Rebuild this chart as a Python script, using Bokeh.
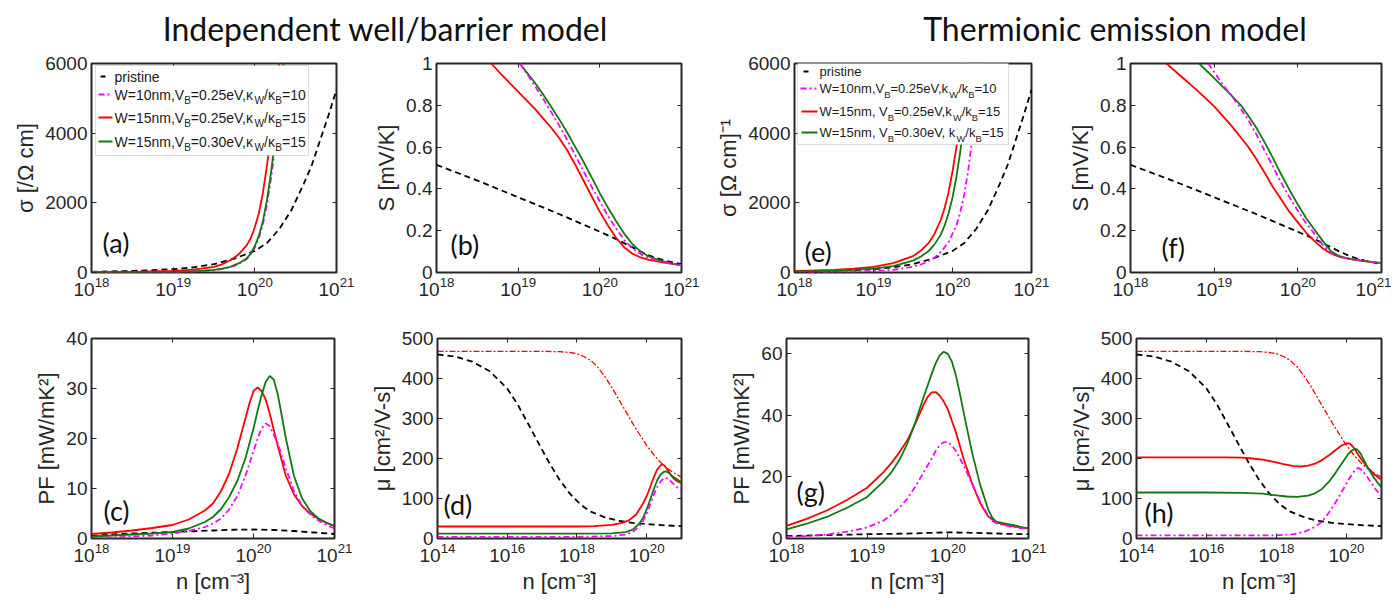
import numpy as np
from bokeh.plotting import figure
from bokeh.models import (Range1d, FixedTicker, LogAxis, LinearAxis, Label,
                          BoxAnnotation, Arrow, Div, CustomJSTickFormatter)
from bokeh.layouts import column, row
from bokeh.embed import file_html
from bokeh.resources import INLINE

# ------------------------------------------------------------------ data
# exponents of n [cm^-3] and values
# conductivity: (a) independent well/barrier model, (e) thermionic emission model
sig_pr_logn = [18, 18.5, 19, 19.25, 19.5, 19.75, 20.0, 20.15, 20.3, 20.45, 20.6, 20.7, 20.8, 20.9, 21]
sig_pr = [20, 45, 95, 150, 240, 400, 620, 850, 1250, 1800, 2550, 3100, 3800, 4500, 5250]

a_red_logn = [18, 18.5, 19, 19.25, 19.5, 19.6, 19.7, 19.8, 19.9, 19.95, 20.0, 20.05, 20.1, 20.15, 20.2, 20.25, 20.3, 20.35]
a_red = [10, 20, 45, 80, 160, 235, 350, 515, 780, 985, 1300, 1700, 2300, 3100, 4000, 5000, 6000, 7200]
a_grn_logn = [18, 18.5, 19, 19.25, 19.5, 19.6, 19.7, 19.8, 19.9, 19.95, 20.0, 20.05, 20.1, 20.15, 20.2, 20.25, 20.3, 20.35, 20.4]
a_grn = [5, 8, 18, 35, 75, 110, 165, 260, 400, 545, 760, 1060, 1480, 2100, 2900, 3850, 4900, 6000, 7100]
a_pnk_logn = [18, 18.5, 19, 19.25, 19.5, 19.6, 19.7, 19.8, 19.9, 19.95, 20.0, 20.05, 20.1, 20.15, 20.2, 20.25, 20.3, 20.35, 20.4]
a_pnk = [2, 5, 12, 28, 65, 100, 152, 240, 385, 520, 720, 1000, 1400, 1980, 2730, 3620, 4600, 5650, 6800]

e_red_logn = [18, 18.25, 18.5, 18.75, 19, 19.25, 19.5, 19.6, 19.7, 19.77, 19.85, 19.9, 19.95, 20.0, 20.05, 20.1, 20.15, 20.2, 20.25]
e_red = [45, 58, 75, 110, 160, 270, 470, 630, 850, 1100, 1500, 1850, 2300, 2900, 3600, 4400, 5200, 6100, 7200]
e_grn_logn = [18, 18.25, 18.5, 18.75, 19, 19.25, 19.5, 19.6, 19.7, 19.77, 19.85, 19.9, 19.95, 20.0, 20.05, 20.1, 20.15, 20.2, 20.25, 20.3]
e_grn = [30, 38, 50, 75, 110, 185, 340, 460, 620, 800, 1080, 1350, 1700, 2150, 2750, 3500, 4300, 5200, 6100, 7300]
e_pnk_logn = [18, 18.25, 18.5, 18.75, 19, 19.25, 19.5, 19.6, 19.7, 19.77, 19.85, 19.95, 20.05, 20.1, 20.15, 20.2, 20.25, 20.3, 20.35]
e_pnk = [5, 9, 15, 25, 40, 78, 165, 230, 330, 420, 580, 870, 1350, 1750, 2250, 2950, 3850, 5000, 6300]

# Seebeck coefficient: (b) and (f)
s_pr_logn = [18, 18.5, 19, 19.5, 20, 20.2, 20.4, 20.5, 20.6, 20.7, 20.8, 20.9, 21]
s_pr = [0.515, 0.44, 0.36, 0.28, 0.195, 0.16, 0.12, 0.1, 0.082, 0.068, 0.057, 0.048, 0.04]

b_red_logn = [18.67, 18.8, 18.9, 19.0, 19.1, 19.2, 19.3, 19.4, 19.5, 19.6, 19.7, 19.8, 19.9, 20.0, 20.1, 20.2, 20.3, 20.4, 20.5, 20.6, 20.75, 20.9, 21]
b_red = [1.0, 0.945, 0.905, 0.865, 0.825, 0.785, 0.74, 0.695, 0.645, 0.585, 0.515, 0.44, 0.365, 0.29, 0.225, 0.165, 0.12, 0.09, 0.072, 0.06, 0.05, 0.04, 0.035]
b_pnk_logn = [19.02, 19.1, 19.2, 19.3, 19.4, 19.5, 19.6, 19.7, 19.8, 19.9, 20.0, 20.1, 20.2, 20.3, 20.4, 20.5, 20.6, 20.75, 20.9, 21]
b_pnk = [1.0, 0.955, 0.895, 0.835, 0.77, 0.705, 0.635, 0.56, 0.485, 0.41, 0.34, 0.27, 0.21, 0.155, 0.115, 0.088, 0.07, 0.053, 0.042, 0.035]
b_grn_logn = [19.02, 19.1, 19.2, 19.3, 19.4, 19.5, 19.6, 19.7, 19.8, 19.9, 20.0, 20.1, 20.2, 20.3, 20.4, 20.5, 20.6, 20.75, 20.9, 21]
b_grn = [1.0, 0.96, 0.91, 0.855, 0.795, 0.735, 0.67, 0.6, 0.53, 0.455, 0.38, 0.31, 0.245, 0.185, 0.135, 0.1, 0.077, 0.056, 0.043, 0.035]

f_red_logn = [18.43, 18.6, 18.8, 19.0, 19.2, 19.4, 19.5, 19.6, 19.7, 19.8, 19.9, 20.0, 20.1, 20.2, 20.3, 20.4, 20.5, 20.6, 20.75, 20.9, 21]
f_red = [1.0, 0.94, 0.87, 0.795, 0.705, 0.605, 0.545, 0.48, 0.41, 0.35, 0.29, 0.24, 0.19, 0.15, 0.115, 0.09, 0.075, 0.066, 0.057, 0.05, 0.045]
f_pnk_logn = [18.93, 19.1, 19.2, 19.29, 19.4, 19.5, 19.6, 19.7, 19.8, 19.9, 20.0, 20.1, 20.2, 20.3, 20.4, 20.5, 20.6, 20.75, 20.9, 21]
f_pnk = [1.0, 0.9, 0.85, 0.8, 0.735, 0.665, 0.585, 0.51, 0.43, 0.36, 0.295, 0.235, 0.185, 0.13, 0.092, 0.076, 0.067, 0.057, 0.05, 0.045]
f_grn_logn = [18.82, 19.0, 19.2, 19.32, 19.4, 19.5, 19.6, 19.7, 19.8, 19.9, 20.0, 20.1, 20.2, 20.3, 20.4, 20.5, 20.6, 20.75, 20.9, 21]
f_grn = [1.0, 0.93, 0.85, 0.8, 0.755, 0.695, 0.625, 0.55, 0.47, 0.395, 0.325, 0.26, 0.205, 0.15, 0.1, 0.078, 0.067, 0.057, 0.05, 0.045]

# power factor: (c) and (g)
c_pr_logn = [18, 18.25, 18.5, 18.75, 19, 19.25, 19.5, 19.75, 20, 20.25, 20.5, 20.75, 21]
c_pr = [0.5, 0.8, 1.0, 1.15, 1.3, 1.45, 1.6, 1.75, 1.8, 1.7, 1.5, 1.2, 0.9]
c_red_logn = [18, 18.25, 18.5, 18.75, 19, 19.2, 19.4, 19.5, 19.6, 19.7, 19.8, 19.9, 19.95, 20.0, 20.05, 20.1, 20.15, 20.2, 20.3, 20.4, 20.5, 20.6, 20.7, 20.8, 20.9, 21]
c_red = [0.9, 1.2, 1.6, 2.1, 2.7, 3.8, 5.6, 7.0, 9.5, 13.0, 18.0, 24.0, 27.0, 29.5, 30.2, 29.5, 27.8, 25.0, 18.5, 12.5, 8.8, 6.5, 5.0, 4.0, 3.2, 2.5]
c_grn_logn = [18, 18.25, 18.5, 18.75, 19, 19.2, 19.4, 19.5, 19.6, 19.7, 19.8, 19.9, 20.0, 20.05, 20.1, 20.15, 20.2, 20.25, 20.3, 20.35, 20.4, 20.5, 20.6, 20.7, 20.8, 20.9, 21]
c_grn = [0.4, 0.6, 0.8, 1.0, 1.3, 2.0, 3.3, 4.3, 5.9, 8.3, 11.5, 16.0, 22.0, 25.5, 28.7, 31.3, 32.5, 31.8, 28.8, 24.5, 20.0, 12.5, 8.0, 5.5, 4.0, 3.1, 2.5]
c_pnk_logn = [18, 18.25, 18.5, 18.75, 19, 19.2, 19.4, 19.5, 19.6, 19.7, 19.8, 19.9, 20.0, 20.05, 20.1, 20.15, 20.2, 20.3, 20.4, 20.5, 20.6, 20.7, 20.8, 20.9, 21]
c_pnk = [0.1, 0.2, 0.4, 0.6, 1.0, 1.5, 2.3, 3.0, 4.0, 5.8, 8.5, 12.5, 17.5, 20.0, 22.0, 23.0, 22.5, 19.0, 14.0, 9.5, 6.5, 4.8, 3.6, 2.7, 2.0]

g_pr_logn = [18, 18.5, 19, 19.5, 19.75, 20, 20.25, 20.5, 20.75, 21]
g_pr = [0.8, 1.1, 1.4, 1.6, 1.8, 2.0, 1.9, 1.7, 1.5, 1.4]
g_red_logn = [18, 18.25, 18.5, 18.75, 19, 19.2, 19.3, 19.4, 19.5, 19.6, 19.7, 19.75, 19.8, 19.85, 19.9, 19.95, 20.0, 20.1, 20.2, 20.3, 20.4, 20.5, 20.6, 20.7, 20.8, 20.9, 21]
g_red = [4.1, 6.4, 9.1, 12.5, 16.5, 21.5, 24.5, 28.0, 32.0, 37.5, 43.5, 46.0, 47.5, 47.6, 46.4, 44.5, 42.0, 34.5, 25.5, 18.0, 11.5, 7.2, 5.2, 4.5, 4.0, 3.6, 3.3]
g_grn_logn = [18, 18.25, 18.5, 18.75, 19, 19.2, 19.3, 19.4, 19.5, 19.6, 19.7, 19.8, 19.85, 19.9, 19.95, 20.0, 20.05, 20.1, 20.15, 20.2, 20.3, 20.4, 20.5, 20.55, 20.6, 20.7, 20.8, 20.9, 21]
g_grn = [3.0, 4.8, 7.0, 10.0, 13.5, 18.5, 21.5, 25.5, 31.0, 38.0, 46.0, 53.5, 57.0, 59.6, 60.7, 60.0, 57.5, 53.0, 47.0, 40.5, 28.0, 17.5, 9.5, 6.8, 5.5, 4.9, 4.4, 3.8, 3.2]
g_pnk_logn = [18, 18.25, 18.5, 18.75, 19, 19.2, 19.3, 19.4, 19.5, 19.6, 19.7, 19.8, 19.85, 19.9, 19.95, 20.0, 20.05, 20.1, 20.15, 20.2, 20.3, 20.4, 20.5, 20.55, 20.6, 20.7, 20.8, 20.9, 21]
g_pnk = [0.5, 0.8, 1.3, 2.2, 3.6, 5.8, 7.6, 10.0, 13.0, 17.0, 21.5, 26.0, 28.5, 30.3, 31.3, 31.3, 30.2, 28.5, 26.0, 23.5, 17.8, 12.0, 7.5, 5.8, 5.0, 4.3, 3.8, 3.4, 3.0]

# mobility: (d) and (h), n from 1e14
mu_pr_logn = [14, 14.5, 15.0, 15.5, 16.0, 16.3, 16.6, 16.9, 17.2, 17.5, 17.8, 18.1, 18.4, 18.8, 19.2, 19.6, 20.0, 20.5, 21]
mu_pr = [460, 455, 442, 418, 375, 335, 287, 238, 190, 147, 112, 85, 67, 53, 44, 39, 36, 33, 31]
mu_w_logn = [14, 16, 17, 17.5, 17.8, 18.0, 18.2, 18.4, 18.6, 18.8, 19.0, 19.2, 19.4, 19.6, 19.8, 20.0, 20.2, 20.4, 20.6, 20.8, 21]
mu_w = [468, 468, 468, 467, 465, 462, 455, 445, 428, 405, 378, 348, 318, 288, 260, 233, 210, 190, 175, 163, 153]

d_red_logn = [14, 17, 18, 18.5, 19.0, 19.3, 19.5, 19.7, 19.9, 20.0, 20.1, 20.2, 20.3, 20.4, 20.45, 20.5, 20.6, 20.7, 20.8, 20.9, 21]
d_red = [30, 30, 30, 31, 34, 39, 46, 60, 88, 106, 128, 152, 172, 183, 185, 183, 172, 158, 148, 142, 138]
d_grn_logn = [14, 18, 19, 19.4, 19.6, 19.8, 19.9, 20.0, 20.1, 20.2, 20.3, 20.4, 20.5, 20.55, 20.65, 20.75, 20.9, 21]
d_grn = [12, 12, 13, 16, 22, 38, 52, 72, 97, 122, 145, 160, 167, 168, 163, 155, 146, 140]
d_pnk_logn = [14, 18, 19, 19.4, 19.6, 19.8, 19.9, 20.0, 20.1, 20.2, 20.3, 20.4, 20.5, 20.55, 20.65, 20.75, 20.9, 21]
d_pnk = [4, 4, 6, 10, 16, 32, 45, 62, 85, 108, 128, 143, 151, 152, 147, 138, 126, 118]

h_red_logn = [14, 16, 16.5, 17.0, 17.3, 17.6, 17.9, 18.2, 18.5, 18.7, 18.9, 19.1, 19.3, 19.5, 19.7, 19.85, 20.0, 20.1, 20.2, 20.3, 20.45, 20.6, 20.8, 21]
h_red = [203, 203, 203, 202, 200, 197, 192, 186, 181, 180, 182, 187, 196, 208, 222, 232, 238, 237, 228, 214, 195, 178, 160, 147]
h_grn_logn = [14, 16, 17, 17.6, 18.0, 18.3, 18.6, 18.9, 19.1, 19.3, 19.5, 19.7, 19.9, 20.05, 20.15, 20.25, 20.3, 20.4, 20.5, 20.6, 20.8, 21]
h_grn = [115, 115, 114, 112, 108, 105, 104, 107, 113, 124, 142, 166, 192, 211, 220, 224, 223, 213, 196, 178, 150, 127]
h_pnk_logn = [14, 17, 18, 18.5, 18.8, 19.1, 19.3, 19.5, 19.7, 19.9, 20.05, 20.2, 20.3, 20.35, 20.45, 20.6, 20.8, 21]
h_pnk = [8, 8, 8, 11, 17, 29, 42, 65, 92, 122, 146, 166, 175, 176, 170, 153, 127, 104]

legend_a = ["pristine",
            [("W=10nm,V", 0), ("B", 1), ("=0.25eV,\u03ba", 0), ("W", 1), ("/\u03ba", 0), ("B", 1), ("=10", 0)],
            [("W=15nm,V", 0), ("B", 1), ("=0.25eV,\u03ba", 0), ("W", 1), ("/\u03ba", 0), ("B", 1), ("=15", 0)],
            [("W=15nm,V", 0), ("B", 1), ("=0.30eV,\u03ba", 0), ("W", 1), ("/\u03ba", 0), ("B", 1), ("=15", 0)]]
legend_e = ["pristine",
            [("W=10nm,V", 0), ("B", 1), ("=0.25eV,k", 0), ("W", 1), ("/k", 0), ("B", 1), ("=10", 0)],
            [("W=15nm, V", 0), ("B", 1), ("=0.25eV,k", 0), ("W", 1), ("/k", 0), ("B", 1), ("=15", 0)],
            [("W=15nm, V", 0), ("B", 1), ("=0.30eV, k", 0), ("W", 1), ("/k", 0), ("B", 1), ("=15", 0)]]

# ------------------------------------------------------------------ style
FONT = "Liberation Sans"
TFONT = "Lato"
AXC = "#262626"
RED, GRN, PNK, BLK = "#ff0000", "#0f7a0f", "#ff00ff", "#000000"
LW = 1.8
DASH = "6 4"
DASHDOT = "6 3 2 3"

ARIAL = {'W': 944, '=': 584, 'n': 556, 'm': 833, ',': 278, 'V': 667, 'B': 667, '.': 278,
         'e': 556, '/': 278, 'k': 500, ' ': 278, '\u03ba': 520, 'p': 556, 'r': 333,
         'i': 222, 's': 500, 't': 278}


def tw(s, size):
    return sum(ARIAL.get(c, 556) for c in s) * size / 1000.0


def lx(v):
    return np.power(10.0, np.asarray(v, dtype=float))


def make_fig(w, h, bl, br, bt, bb, xr, yr, xticks, yticks, ylabel, xlabel=None, yfmt=None):
    p = figure(width=w, height=h, x_axis_type="log",
               x_range=Range1d(xr[0], xr[1]), y_range=Range1d(yr[0], yr[1]),
               output_backend="svg", toolbar_location=None,
               min_border_left=bl, min_border_right=br, min_border_top=bt, min_border_bottom=bb)
    p.grid.visible = False
    p.outline_line_color = AXC
    p.outline_line_width = 2
    p.xaxis.ticker = FixedTicker(ticks=xticks)
    p.yaxis.ticker = FixedTicker(ticks=yticks)
    if yfmt is not None:
        p.yaxis.formatter = yfmt
    for ax in [p.xaxis[0], p.yaxis[0]]:
        ax.axis_line_color = None
        ax.major_tick_in = 5
        ax.major_tick_out = 0
        ax.major_tick_line_color = AXC
        ax.major_tick_line_width = 1
        ax.minor_tick_line_color = None
        ax.major_label_text_font = FONT
        ax.major_label_text_font_size = "19px"
        ax.major_label_text_color = AXC
        ax.major_label_standoff = 4
        ax.axis_label_text_font = FONT
        ax.axis_label_text_font_size = "22px"
        ax.axis_label_text_font_style = "normal"
        ax.axis_label_text_color = AXC
        ax.axis_label_standoff = 4
    p.yaxis[0].axis_label = ylabel
    if xlabel:
        p.xaxis[0].axis_label = xlabel
    top = LogAxis(ticker=FixedTicker(ticks=xticks), formatter=CustomJSTickFormatter(code="return ''"),
                  axis_line_color=None, major_tick_in=4, major_tick_out=0, major_tick_line_color=AXC,
                  minor_tick_line_color=None, major_label_text_font_size="0px", major_label_standoff=0)
    right = LinearAxis(ticker=FixedTicker(ticks=yticks), formatter=CustomJSTickFormatter(code="return ''"),
                       axis_line_color=None, major_tick_in=4, major_tick_out=0, major_tick_line_color=AXC,
                       minor_tick_line_color=None, major_label_text_font_size="0px", major_label_standoff=0)
    p.add_layout(top, "above")
    p.add_layout(right, "right")
    p._fh = h - bt - bb
    return p


def tag(p, text, dx, dy_from_bottom):
    p.add_layout(Label(x=dx, y=dy_from_bottom, x_units="screen", y_units="screen", text=text,
                       text_font=TFONT, text_font_size="27px", text_color="#111111",
                       text_baseline="middle"))


def legend(p, entries, styles, box, rows, text_x, size):
    fh = p._fh
    l, r, t, b = box
    p.add_layout(BoxAnnotation(left=l, right=r, top=fh - t, bottom=fh - b,
                               left_units="screen", right_units="screen",
                               top_units="screen", bottom_units="screen",
                               fill_color="white", fill_alpha=1.0,
                               line_color="#8c8c8c", line_width=1))
    for ent, (col, dash, x0, x1), ry in zip(entries, styles, rows):
        y = fh - ry
        p.add_layout(Arrow(end=None, x_start=x0, y_start=y, x_end=x1, y_end=y,
                           start_units="screen", end_units="screen",
                           line_color=col, line_width=2.2, line_dash=dash))
        parts = [(ent, 0)] if isinstance(ent, str) else ent
        x = text_x
        for txt, sub in parts:
            fs = size * 0.72 if sub else size
            p.add_layout(Label(x=x, y=y - (6 if sub else 0), x_units="screen", y_units="screen",
                               text=txt, text_font=FONT, text_font_size="%.1fpx" % fs,
                               text_color="#1a1a1a", text_baseline="middle"))
            x += tw(txt, fs)


def curves(p, sets):
    for xs, ys, col, dash, lw in sets:
        p.line(lx(xs), ys, line_color=col, line_width=lw, line_dash=dash)


def sfmt():
    return CustomJSTickFormatter(code="return String(Math.round(tick*10)/10)")


DEC3 = [1e18, 1e19, 1e20, 1e21]
DEC2 = [1e14, 1e16, 1e18, 1e20]

# ------------------------------------------------------------------ top row
fa = make_fig(365, 273, 91, 29, 8, 51, (1e18, 1e21), (0, 6000), DEC3, [0, 2000, 4000, 6000],
              "\u03c3 [/\u03a9 cm]")
curves(fa, [(sig_pr_logn, sig_pr, BLK, DASH, LW), (a_pnk_logn, a_pnk, PNK, DASHDOT, LW),
            (a_red_logn, a_red, RED, "solid", LW), (a_grn_logn, a_grn, GRN, "solid", LW)])
legend(fa, legend_a, [(BLK, DASH, 9, 14), (PNK, DASHDOT, 7, 21), (RED, "solid", 7, 21), (GRN, "solid", 7, 21)],
       (4, 217, 7, 97), [18, 36, 59, 83], 23, 14)
tag(fa, "(a)", 11, 30)

fb = make_fig(340, 273, 71, 24, 7, 53, (1e18, 1e21), (0, 1), DEC3, [0, 0.2, 0.4, 0.6, 0.8, 1.0],
              "S [mV/K]", yfmt=sfmt())
curves(fb, [(s_pr_logn, s_pr, BLK, DASH, LW), (b_red_logn, b_red, RED, "solid", LW),
            (b_grn_logn, b_grn, GRN, "solid", LW), (b_pnk_logn, b_pnk, PNK, DASHDOT, LW)])
tag(fb, "(b)", 14, 28)

fe = make_fig(360, 273, 89, 34, 9, 43, (1e18, 1e21), (0, 6000), DEC3, [0, 2000, 4000, 6000],
              "\u03c3 [\u03a9 cm]\u207b\u00b9")
curves(fe, [(sig_pr_logn, sig_pr, BLK, DASH, LW), (e_pnk_logn, e_pnk, PNK, DASHDOT, LW),
            (e_red_logn, e_red, RED, "solid", LW), (e_grn_logn, e_grn, GRN, "solid", LW)])
legend(fe, legend_e, [(BLK, DASH, 9, 14), (PNK, DASHDOT, 6, 22), (RED, "solid", 7, 23), (GRN, "solid", 7, 23)],
       (3, 214, 8, 93), [20, 37, 60, 81], 25, 13)
tag(fe, "(e)", 10, 21)

ff = make_fig(326, 273, 56, 10, 11, 40, (1e18, 1e21), (0, 1), DEC3, [0, 0.2, 0.4, 0.6, 0.8, 1.0],
              "S [mV/K]", yfmt=sfmt())
curves(ff, [(s_pr_logn, s_pr, BLK, DASH, LW), (f_red_logn, f_red, RED, "solid", LW),
            (f_grn_logn, f_grn, GRN, "solid", LW), (f_pnk_logn, f_pnk, PNK, DASHDOT, LW)])
tag(ff, "(f)", 31, 25)

# ------------------------------------------------------------------ bottom row
NLAB = "n [cm\u207b\u00b3]"
fc = make_fig(365, 288, 91, 31, 13, 75, (1e18, 1e21), (0, 40), DEC3, [0, 10, 20, 30, 40],
              "PF [mW/mK\u00b2]", NLAB)
curves(fc, [(c_pr_logn, c_pr, BLK, DASH, LW), (c_red_logn, c_red, RED, "solid", LW),
            (c_grn_logn, c_grn, GRN, "solid", LW), (c_pnk_logn, c_pnk, PNK, DASHDOT, LW)])
tag(fc, "(c)", 12, 28)

fd = make_fig(340, 288, 72, 24, 9, 74, (1e14, 1e21), (0, 500), DEC2, [0, 100, 200, 300, 400, 500],
              "\u03bc [cm\u00b2/V-s]", NLAB)
curves(fd, [(mu_w_logn, mu_w, RED, "6 2 2 2", 1.3), (mu_pr_logn, mu_pr, BLK, DASH, LW),
            (d_red_logn, d_red, RED, "solid", LW), (d_grn_logn, d_grn, GRN, "solid", LW),
            (d_pnk_logn, d_pnk, PNK, DASHDOT, LW)])
tag(fd, "(d)", 6, 34)

fg = make_fig(360, 288, 81, 37, 7, 68, (1e18, 1e21), (0, 65), DEC3, [0, 20, 40, 60],
              "PF [mW/mK\u00b2]", NLAB)
curves(fg, [(g_pr_logn, g_pr, BLK, DASH, LW), (g_red_logn, g_red, RED, "solid", LW),
            (g_grn_logn, g_grn, GRN, "solid", LW), (g_pnk_logn, g_pnk, PNK, DASHDOT, LW)])
tag(fg, "(g)", 10, 47)

fh = make_fig(326, 288, 60, 10, 7, 67, (1e14, 1e21), (0, 500), DEC2, [0, 100, 200, 300, 400, 500],
              "\u03bc [cm\u00b2/V-s]", NLAB)
curves(fh, [(mu_w_logn, mu_w, RED, "6 2 2 2", 1.3), (mu_pr_logn, mu_pr, BLK, DASH, LW),
            (h_red_logn, h_red, RED, "solid", LW), (h_grn_logn, h_grn, GRN, "solid", LW),
            (h_pnk_logn, h_pnk, PNK, DASHDOT, LW)])
tag(fh, "(h)", 8, 26)

# ------------------------------------------------------------------ titles
title_html = (
    '<div style="position:relative;width:1391px;height:52px;font-family:Lato;font-size:32px;color:#111;">'
    '<span style="position:absolute;left:385px;top:6px;transform:translateX(-50%);white-space:nowrap;">'
    'Independent well/barrier model</span>'
    '<span style="position:absolute;left:1115px;top:6px;transform:translateX(-50%);white-space:nowrap;">'
    'Thermionic emission model</span></div>')
titles = Div(text=title_html, width=1391, height=52, margin=(0, 0, 0, 0))

layout = column(titles, row(fa, fb, fe, ff), row(fc, fd, fg, fh))
open("out.html", "w").write(file_html(layout, INLINE))
